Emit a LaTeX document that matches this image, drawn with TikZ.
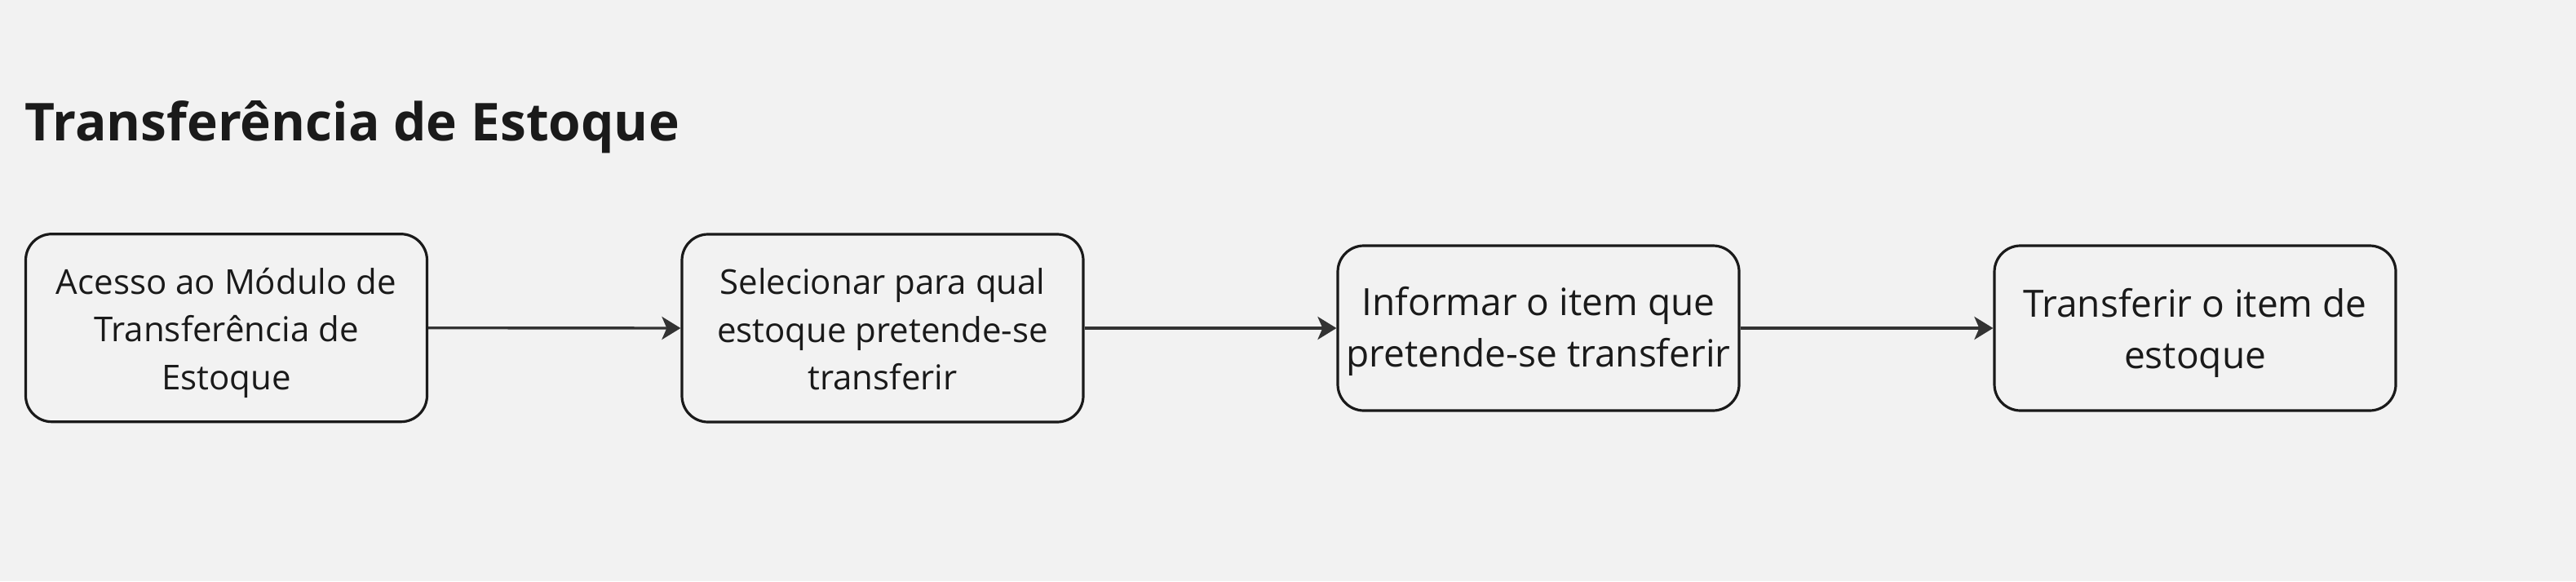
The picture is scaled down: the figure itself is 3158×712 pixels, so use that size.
\documentclass[tikz,border=0pt]{standalone}
\usepackage{fontspec}
\setmainfont{Open Sans}
\usetikzlibrary{arrows.meta}
\definecolor{bg}{HTML}{F2F2F2}
\definecolor{ink}{HTML}{1A1A1A}
\definecolor{arr}{HTML}{333333}
\begin{document}
\begin{tikzpicture}[x=0.5pt,y=-0.5pt,
  stepbox/.style={draw=ink,line width=1.6pt,fill=bg,rounded corners=16pt,
    minimum width=246pt,inner sep=0pt},
  tall/.style={minimum height=115pt},
  short/.style={minimum height=101pt},
  boxtext/.style={inner sep=0pt,align=center,text=ink},
  talltext/.style={boxtext,font=\fontsize{21}{29.3}\selectfont},
  shorttext/.style={boxtext,font=\fontsize{23}{31.5}\selectfont},
  flow/.style={draw=arr,line width=1.7pt,-{Stealth[length=11.5pt,width=14pt,inset=3pt]}}]
\fill[bg] (0,0) rectangle (3158,712);
\useasboundingbox (0,0) rectangle (3158,712);
\node[anchor=base west,inner sep=0pt,text=ink,font=\fontsize{32}{36}\selectfont\bfseries] (title) at (30,172) {Transferência de Estoque};
\node[stepbox,tall] (b1) at (277.5,401.7) {};
\node[stepbox,tall] (b2) at (1082,402) {};
\node[stepbox,short] (b3) at (1886,402) {};
\node[stepbox,short] (b4) at (2691,402) {};
\node[talltext] (t1) at ([yshift=-3pt]b1.center) {Acesso ao Módulo de\\Transferência de\\Estoque};
\node[talltext] (t2) at ([yshift=-0.8pt]b2.center) {Selecionar para qual\\estoque pretende-se\\transferir};
\node[shorttext] (t3) at ([yshift=-2pt]b3.center) {Informar o item que\\pretende-se transferir};
\node[shorttext] (t4) at ([yshift=-2.8pt]b4.center) {Transferir o item de\\estoque};
\draw[flow] (b1.east) -- (b2.west);
\draw[flow] (b2.east) -- (b3.west);
\draw[flow] (b3.east) -- (b4.west);
\end{tikzpicture}
\end{document}
